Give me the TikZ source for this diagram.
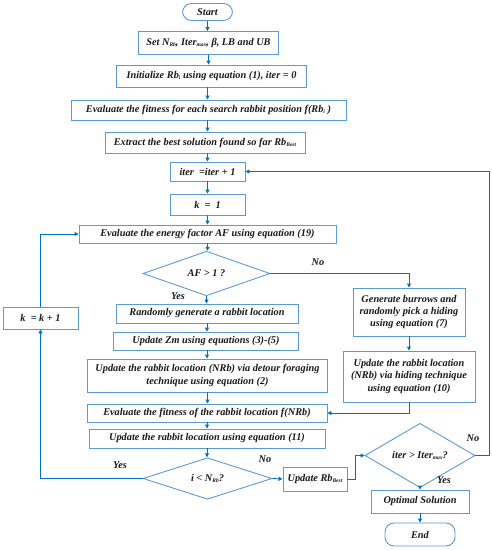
\documentclass[tikz,border=0pt]{standalone}
\usepackage{fontspec}
\setmainfont{Liberation Serif}
\usetikzlibrary{arrows.meta,shapes.geometric}
\definecolor{boxblue}{RGB}{91,155,213}
\definecolor{arrblue}{RGB}{0,112,192}
\definecolor{txt}{RGB}{25,25,25}
\newcommand{\lsub}[1]{\raisebox{-0.3ex}{\fontsize{5.5}{6}\selectfont #1}}
\begin{document}
\begin{tikzpicture}[x=1pt,y=-1pt,
  every node/.style={text=txt, font=\bfseries\itshape\fontsize{10.3}{12.3}\selectfont},
  box/.style={draw=boxblue, line width=0.9pt, fill=white, inner sep=1pt, align=center},
  term/.style={box, rounded corners=9pt},
  dec/.style={box, diamond, inner sep=0pt},
  arr/.style={-{Triangle[length=4pt,width=4pt]}, draw=arrblue, line width=0.9pt},
  lbl/.style={inner sep=1pt}]
\useasboundingbox (0,0) rectangle (492,550);
\node[term, minimum width=50pt, minimum height=17pt] (start) at (207.5,12) {Start};
\node[box, minimum width=140pt, minimum height=23pt] (set) at (208.5,43) {Set N\lsub{Rb}, Iter\lsub{max}, β, LB and UB};
\node[box, minimum width=190pt, minimum height=22pt] (init) at (211.5,76) {Initialize Rb\lsub{i} using equation (1), iter = 0};
\node[box, minimum width=275pt, minimum height=20pt] (fit) at (208.5,110) {Evaluate the fitness for each search rabbit position f(Rb\lsub{i} )};
\node[box, minimum width=200pt, minimum height=21pt] (extract) at (205,142.5) {Extract the best solution found so far Rb\lsub{Best}};
\node[box, minimum width=75pt, minimum height=19pt] (iter) at (207.5,171.5) {iter \ =iter + 1};
\node[box, minimum width=75pt, minimum height=21pt] (k1) at (207.5,204.5) {k \ = \ 1};
\node[box, minimum width=257pt, minimum height=18pt] (af) at (207.5,234) {Evaluate the energy factor AF using equation (19)};
\node[dec, minimum width=127pt, minimum height=37pt] (d1) at (206.5,273.5) {AF > 1 ?};
\node[box, minimum width=182pt, minimum height=19pt] (rand) at (207,313.5) {Randomly generate a rabbit location};
\node[box, minimum width=75pt, minimum height=22pt] (kk) at (40.5,318) {k \ = k + 1};
\node[box, minimum width=112pt, minimum height=48pt] (gen) at (409,312) {Generate burrows and\\randomly pick a hiding\\using equation (7)};
\node[box, minimum width=185pt, minimum height=18pt] (zm) at (206,341) {Update Zm using equations (3)-(5)};
\node[box, minimum width=240pt, minimum height=33pt] (det) at (207.5,375.5) {Update the rabbit location (NRb) via detour foraging\\technique using equation (2)};
\node[box, minimum width=132pt, minimum height=51pt] (hide) at (409,376.5) {Update the rabbit location\\(NRb) via hiding technique\\using equation (10)};
\node[box, minimum width=240pt, minimum height=18pt] (fitn) at (207,413) {Evaluate the fitness of the rabbit location f(NRb)};
\node[box, minimum width=236pt, minimum height=19pt] (upd) at (207,438.5) {Update the rabbit location using equation (11)};
\node[dec, minimum width=129pt, minimum height=37pt] (d2) at (207.5,478.5) {i < N\lsub{Rb}?};
\node[box, minimum width=64pt, minimum height=24pt] (ubest) at (315,479) {Update Rb\lsub{Best}};
\node[dec, minimum width=110pt, minimum height=37pt] (d3) at (420,455.5) {iter > Iter\lsub{max}?};
\node[box, minimum width=98pt, minimum height=23pt] (opt) at (420,501.5) {Optimal Solution};
\node[term, minimum width=70pt, minimum height=23pt] (end) at (420,534.5) {End};
% labels
\node[lbl] (l1) at (318,262) {No};
\node[lbl] (l2) at (178,296) {Yes};
\node[lbl] (l3) at (120,465) {Yes};
\node[lbl] (l4) at (265,459.5) {No};
\node[lbl] (l5) at (473,438) {No};
\node[lbl] (l6) at (444,480) {Yes};
% connectors
\draw[arr] (start) -- (start |- set.north);
\draw[arr] (set) -- (set |- init.north);
\draw[arr] (207.5,87) coordinate (c1) -- (c1 |- fit.north);
\draw[arr] (207.5,120) coordinate (c2) -- (c2 |- extract.north);
\draw[arr] (207.5,153) coordinate (c3) -- (c3 |- iter.north);
\draw[arr] (iter) -- (k1);
\draw[arr] (k1) -- (k1 |- af.north);
\draw[arr] (af.south) -- (af.south |- d1.north);
\draw[arr] (d1.south) -- (d1.south |- rand.north);
\draw[arr] (rand) -- (rand |- zm.north);
\draw[arr] (207,350) coordinate (c4) -- (c4 |- det.north);
\draw[arr] (det) -- (det |- fitn.north);
\draw[arr] (fitn) -- (upd);
\draw[arr] (upd) -- (upd |- d2.north);
\draw[arr] (d1.east) -| (gen.north);
\draw[arr] (gen) -- (hide);
\draw[arr] (hide.south) |- (fitn.east);
\draw[arr] (d2.west) -| (kk.south);
\draw[arr] (kk.north) |- (af.west);
\draw[arr] (d2.east) -- (ubest.west);
\draw[arr] (ubest.east) -- ++(8,0) coordinate (c5) |- (d3.west);
\draw[arr] (d3.east) -- ++(14,0) coordinate (c6) |- (iter.east);
\draw[arr] (d3.south) -- (opt.north);
\draw[arr] (opt) -- (end);
\end{tikzpicture}
\end{document}
